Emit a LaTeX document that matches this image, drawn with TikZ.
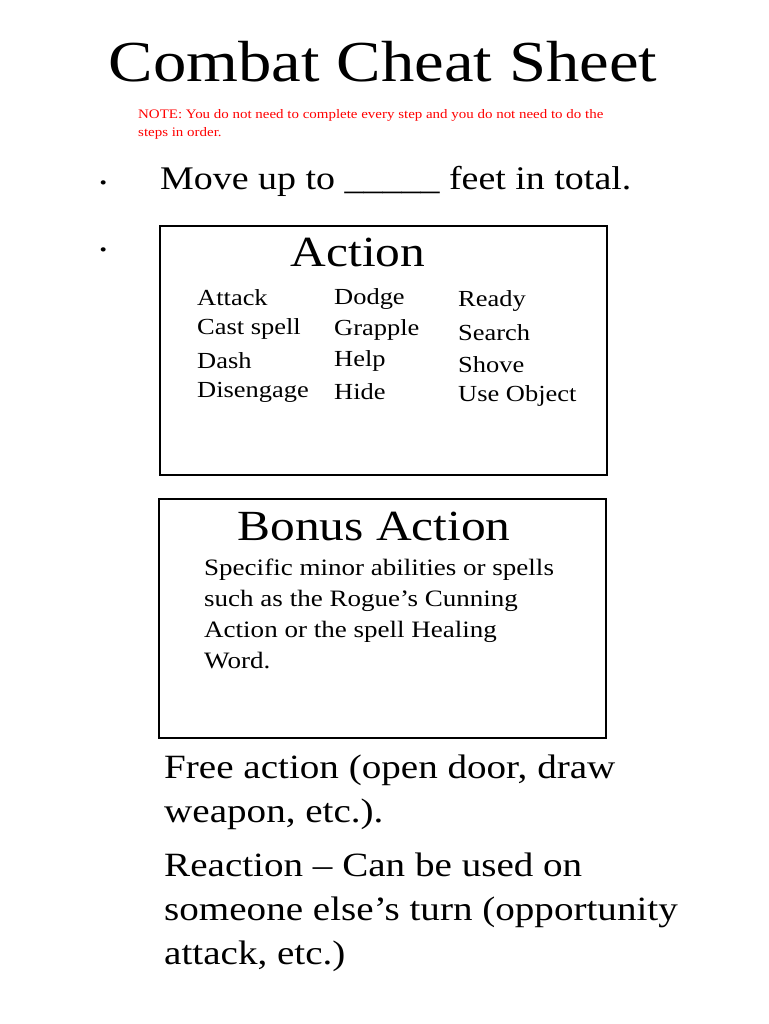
\documentclass[tikz,border=0pt]{standalone}
\usepackage{fontspec}
\setmainfont[FakeStretch=1.15]{Liberation Serif}
\begin{document}
\begin{tikzpicture}[x=1pt,y=-1pt,
  box/.style={draw=black,line width=1.5pt},
  txt/.style={anchor=west,inner sep=0pt},
  col/.style={txt,font=\fontsize{23}{26}\selectfont},
  big/.style={txt,font=\fontsize{33}{36}\selectfont},
  hd/.style={inner sep=0pt,font=\fontsize{43}{48}\selectfont}]
\useasboundingbox (0,0) rectangle (768,1024);
\node[inner sep=0pt,font=\fontsize{58}{64}\selectfont] (title) at (383,62) {Combat Cheat Sheet};
\node[txt,text=red,font=\fontsize{13}{18}\selectfont,align=left,anchor=north west] (note) at (138,109)
  {NOTE: You do not need to complete every step and you do not need to do the\\steps in order.};
\node[txt,font=\fontsize{36}{36}\selectfont] (b1) at (98,183) {.};
\node[big] (move) at (160,181) {Move up to \_\_\_\_\_ feet in total.};
\node[txt,font=\fontsize{36}{36}\selectfont] (b2) at (98,250) {.};
\draw[box] (160,226) rectangle (607,475);
\node[hd] (action) at (358,252) {Action};
\foreach \t [count=\i] in {Attack,Cast spell,Dash,Disengage}
  \node[col] (a\i) at (197,266+31.5*\i) {\t};
\foreach \t [count=\i] in {Dodge,Grapple,Help,Hide}
  \node[col] (d\i) at (334,268+31*\i) {\t};
\foreach \t [count=\i] in {Ready,Search,Shove,Use Object}
  \node[col] (r\i) at (458,270+31.5*\i) {\t};
\draw[box] (159,499) rectangle (606,738);
\node[hd] (bonus) at (374,526) {Bonus Action};
\node[txt,anchor=north west,align=left,font=\fontsize{23.5}{31}\selectfont] (btext) at (204,559)
  {Specific minor abilities or spells\\such as the Rogue’s Cunning\\Action or the spell Healing\\Word.};
\node[txt,anchor=north west,align=left,font=\fontsize{34}{44}\selectfont] (free) at (164,755)
  {Free action (open door, draw\\weapon, etc.).};
\node[txt,anchor=north west,align=left,font=\fontsize{34}{44}\selectfont] (react) at (164,853)
  {Reaction – Can be used on\\someone else’s turn (opportunity\\attack, etc.)};
\end{tikzpicture}
\end{document}
